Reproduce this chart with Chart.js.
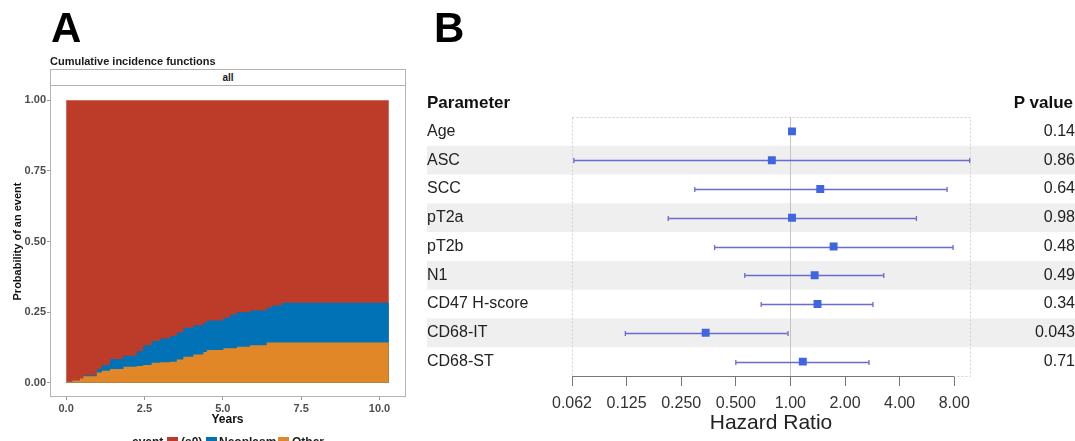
<!DOCTYPE html>
<html>
<head>
<meta charset="utf-8">
<script src="https://cdn.jsdelivr.net/npm/chart.js@4/dist/chart.umd.min.js"></script>
<style>
html,body{margin:0;padding:0;width:1075px;height:441px;overflow:hidden;background:#fff;font-family:"Liberation Sans",Arial,sans-serif;}
.abs{position:absolute;white-space:nowrap;line-height:1;}
.sq{position:absolute;width:11px;height:11px;}
</style>
</head>
<body>
<div style="position:absolute;left:0;top:0;width:420px;height:441px"><canvas id="cA" width="420" height="441"></canvas></div>
<div style="position:absolute;left:420px;top:0;width:655px;height:441px"><canvas id="cB" width="655" height="441"></canvas></div>

<div class="abs" style="left:51px;top:7px;font-size:42px;font-weight:bold;color:#000">A</div>
<div class="abs" style="left:434px;top:7px;font-size:42px;font-weight:bold;color:#000">B</div>
<div class="abs" style="left:50px;top:56px;font-size:11px;font-weight:bold;color:#1a1a1a">Cumulative incidence functions</div>
<div class="abs" style="left:50px;top:69px;width:356px;height:17px;box-sizing:border-box;border:1px solid #b3b3b3;background:#fff;font-size:10px;font-weight:bold;color:#1a1a1a;text-align:center;line-height:15px">all</div>

<div class="abs" style="left:427px;top:94px;font-size:17px;font-weight:bold;color:#111">Parameter</div>
<div class="abs" style="right:2px;top:94px;font-size:17px;font-weight:bold;color:#111">P value</div>

<div class="abs" style="left:132px;top:436px;font-size:12px;font-weight:bold;color:#1a1a1a">event</div>
<div class="sq" style="left:167px;top:437px;background:#BC3C29"></div>
<div class="abs" style="left:181px;top:436px;font-size:12px;font-weight:bold;color:#1a1a1a">(s0)</div>
<div class="sq" style="left:206px;top:437px;background:#0072B5"></div>
<div class="abs" style="left:219px;top:436px;font-size:12px;font-weight:bold;color:#1a1a1a">Neoplasm</div>
<div class="sq" style="left:278px;top:437px;background:#E18727"></div>
<div class="abs" style="left:292px;top:436px;font-size:12px;font-weight:bold;color:#1a1a1a">Other</div>

<script>
// ---------- Panel A data: cumulative incidence (stacked boundaries) ----------
const years       = [0.00, 0.20, 0.44, 0.55, 0.98, 1.14, 1.40, 1.83, 2.25, 2.46, 2.73, 3.00, 3.32, 3.53, 3.74, 4.06, 4.38, 4.49, 5.02, 5.23, 5.45, 5.87, 6.40, 6.56, 6.88, 10.30];
const otherCum    = [0.004, 0.008, 0.015, 0.023, 0.037, 0.043, 0.049, 0.057, 0.060, 0.063, 0.071, 0.073, 0.075, 0.083, 0.092, 0.100, 0.109, 0.116, 0.122, 0.122, 0.128, 0.133, 0.143, 0.143, 0.143, 0.143];
const neoplasmTop = [0.004, 0.008, 0.015, 0.027, 0.049, 0.063, 0.084, 0.096, 0.113, 0.133, 0.148, 0.157, 0.166, 0.178, 0.195, 0.204, 0.213, 0.221, 0.230, 0.242, 0.250, 0.256, 0.266, 0.274, 0.283, 0.283];
const s0Years     = [0.00, 10.30];
const s0Top       = [1.00, 1.00];
const xTicksA     = [0, 2.5, 5, 7.5, 10];
const yTicksA     = [0, 0.25, 0.5, 0.75, 1];

// ---------- Panel B data: forest plot ----------
const params   = ['Age', 'ASC', 'SCC', 'pT2a', 'pT2b', 'N1', 'CD47 H-score', 'CD68-IT', 'CD68-ST'];
const hr       = [1.02, 0.79, 1.46, 1.02, 1.73, 1.36, 1.41, 0.341, 1.17];
const hrLower  = [1.00, 0.064, 0.297, 0.212, 0.382, 0.56, 0.69, 0.123, 0.50];
const hrUpper  = [1.04, 9.73, 7.30, 4.95, 7.88, 3.27, 2.85, 0.97, 2.71];
const pValues  = ['0.14', '0.86', '0.64', '0.98', '0.48', '0.49', '0.34', '0.043', '0.71'];
const hrTicks  = [0.0625, 0.125, 0.25, 0.5, 1, 2, 4, 8];
const hrTickLabels = ['0.062', '0.125', '0.250', '0.500', '1.00', '2.00', '4.00', '8.00'];

Chart.defaults.font.family = "'Liberation Sans', Arial, sans-serif";

const frameA = {
  id: 'frameA',
  afterDraw(chart) {
    const a = chart.chartArea, ctx = chart.ctx;
    ctx.save();
    ctx.strokeStyle = '#b3b3b3';
    ctx.lineWidth = 1;
    ctx.strokeRect(Math.round(a.left) + 0.5, Math.round(a.top) - 0.5, Math.round(a.right - a.left), Math.round(a.bottom - a.top));
    ctx.restore();
  }
};

const pts = (xs, ys) => xs.map((x, i) => ({ x: x, y: ys[i] }));
const areaDs = (label, data, color) => ({
  label, data, backgroundColor: color, borderColor: 'rgba(0,0,0,0)', borderWidth: 0,
  fill: 'origin', stepped: true, pointRadius: 0, tension: 0
});

new Chart(document.getElementById('cA'), {
  type: 'line',
  data: {
    datasets: [
      areaDs('Other', pts(years, otherCum), '#E18727'),
      areaDs('Neoplasm', pts(years, neoplasmTop), '#0072B5'),
      areaDs('(s0)', pts(s0Years, s0Top), '#BC3C29')
    ]
  },
  options: {
    responsive: false, animation: false,
    layout: { padding: { left: 0, right: 15, top: 86, bottom: 0 } },
    plugins: { legend: { display: false }, tooltip: { enabled: false } },
    scales: {
      x: {
        type: 'linear', min: -0.515, max: 10.815,
        afterBuildTicks: s => { s.ticks = xTicksA.map(v => ({ value: v })); },
        afterFit: s => { s.height = 44; },
        ticks: { callback: v => Number(v).toFixed(1), autoSkip: false, maxRotation: 0, padding: 2,
                 font: { size: 11, weight: 'bold' }, color: '#4d4d4d' },
        grid: { drawOnChartArea: false, drawTicks: true, tickLength: 3, color: '#999' },
        border: { display: false },
        title: { display: true, text: 'Years', font: { size: 12, weight: 'bold' }, color: '#111', padding: { top: 0, bottom: 14 } }
      },
      y: {
        type: 'linear', min: -0.05, max: 1.05,
        afterBuildTicks: s => { s.ticks = yTicksA.map(v => ({ value: v })); },
        afterFit: s => { s.width = 50; },
        ticks: { callback: v => Number(v).toFixed(2), padding: 1, font: { size: 11, weight: 'bold' }, color: '#4d4d4d' },
        grid: { drawOnChartArea: false, drawTicks: true, tickLength: 3, color: '#999' },
        border: { display: false },
        title: { display: true, text: 'Probability of an event', font: { size: 11, weight: 'bold' }, color: '#111', padding: { top: 11, bottom: 0 } }
      }
    }
  },
  plugins: [frameA]
});

// ---------- Panel B ----------
const forestPlugin = {
  id: 'forest',
  beforeDraw(chart) {
    const ctx = chart.ctx, ys = chart.scales.y;
    const half = (ys.getPixelForValue(1) - ys.getPixelForValue(0)) / 2;
    ctx.save();
    ctx.fillStyle = '#efefef';
    params.forEach((p, i) => {
      if (i % 2 === 1) {
        const yc = ys.getPixelForValue(i);
        ctx.fillRect(7, yc - half, chart.width - 7, half * 2);
      }
    });
    ctx.restore();
  },
  beforeDatasetsDraw(chart) {
    const ctx = chart.ctx, a = chart.chartArea, xs = chart.scales.x, ys = chart.scales.y;
    ctx.save();
    // dotted frame
    ctx.strokeStyle = '#d0d0d0';
    ctx.lineWidth = 1;
    ctx.setLineDash([2, 2]);
    ctx.strokeRect(Math.round(a.left) + 0.5, Math.round(a.top) + 0.5, Math.round(a.right - a.left), Math.round(a.bottom - a.top));
    ctx.setLineDash([]);
    // reference line at HR = 1
    const x1 = Math.round(xs.getPixelForValue(1)) + 0.5;
    ctx.strokeStyle = '#c4c4c4';
    ctx.beginPath(); ctx.moveTo(x1, a.top); ctx.lineTo(x1, a.bottom); ctx.stroke();
    // x axis line between first and last tick
    ctx.strokeStyle = '#777';
    const yb = Math.round(a.bottom) + 0.5;
    ctx.beginPath();
    ctx.moveTo(xs.getPixelForValue(hrTicks[0]), yb);
    ctx.lineTo(xs.getPixelForValue(hrTicks[hrTicks.length - 1]), yb);
    ctx.stroke();
    // error bars
    ctx.strokeStyle = '#6a6ad2';
    ctx.lineWidth = 1.3;
    params.forEach((p, i) => {
      const y = Math.round(ys.getPixelForValue(i)) + 0.5;
      const xl = xs.getPixelForValue(hrLower[i]);
      const xr = xs.getPixelForValue(hrUpper[i]);
      ctx.beginPath();
      ctx.moveTo(xl, y); ctx.lineTo(xr, y);
      ctx.moveTo(xl, y - 2.5); ctx.lineTo(xl, y + 2.5);
      ctx.moveTo(xr, y - 2.5); ctx.lineTo(xr, y + 2.5);
      ctx.stroke();
    });
    ctx.restore();
  }
};

const fixCat = w => s => { s.width = w; s.paddingTop = 0; s.paddingBottom = 0; };

new Chart(document.getElementById('cB'), {
  type: 'scatter',
  data: {
    datasets: [{
      label: 'Hazard ratio',
      data: params.map((p, i) => ({ x: hr[i], y: p })),
      pointStyle: 'rect', pointRadius: 5.6, borderWidth: 0,
      backgroundColor: '#3f66e0', borderColor: '#3f66e0'
    }]
  },
  options: {
    responsive: false, animation: false,
    layout: { padding: { left: 7, right: 0, top: 117, bottom: 0 } },
    plugins: { legend: { display: false }, tooltip: { enabled: false } },
    scales: {
      x: {
        type: 'logarithmic', min: 0.0625, max: 9.77,
        afterBuildTicks: s => { s.ticks = hrTicks.map(v => ({ value: v })); },
        afterFit: s => { s.height = 65; },
        ticks: { callback: (v, i) => hrTickLabels[i], autoSkip: false, maxRotation: 0, padding: 8,
                 font: { size: 16 }, color: '#333' },
        grid: { drawOnChartArea: false, drawTicks: true, tickLength: 10, color: '#777' },
        border: { display: false },
        title: { display: true, text: 'Hazard Ratio', font: { size: 21 }, color: '#222', padding: { top: 0, bottom: 5 } }
      },
      y: {
        type: 'category', labels: params, offset: true, position: 'left',
        afterFit: fixCat(145),
        ticks: { crossAlign: 'far', padding: 44, font: { size: 16 }, color: '#222', autoSkip: false },
        grid: { display: false, drawTicks: false },
        border: { display: false }
      },
      y2: {
        type: 'category', labels: pValues, offset: true, position: 'right',
        afterFit: fixCat(105),
        ticks: { crossAlign: 'far', padding: 59, font: { size: 16 }, color: '#222', autoSkip: false },
        grid: { display: false, drawTicks: false },
        border: { display: false }
      }
    }
  },
  plugins: [forestPlugin]
});
</script>
</body>
</html>
